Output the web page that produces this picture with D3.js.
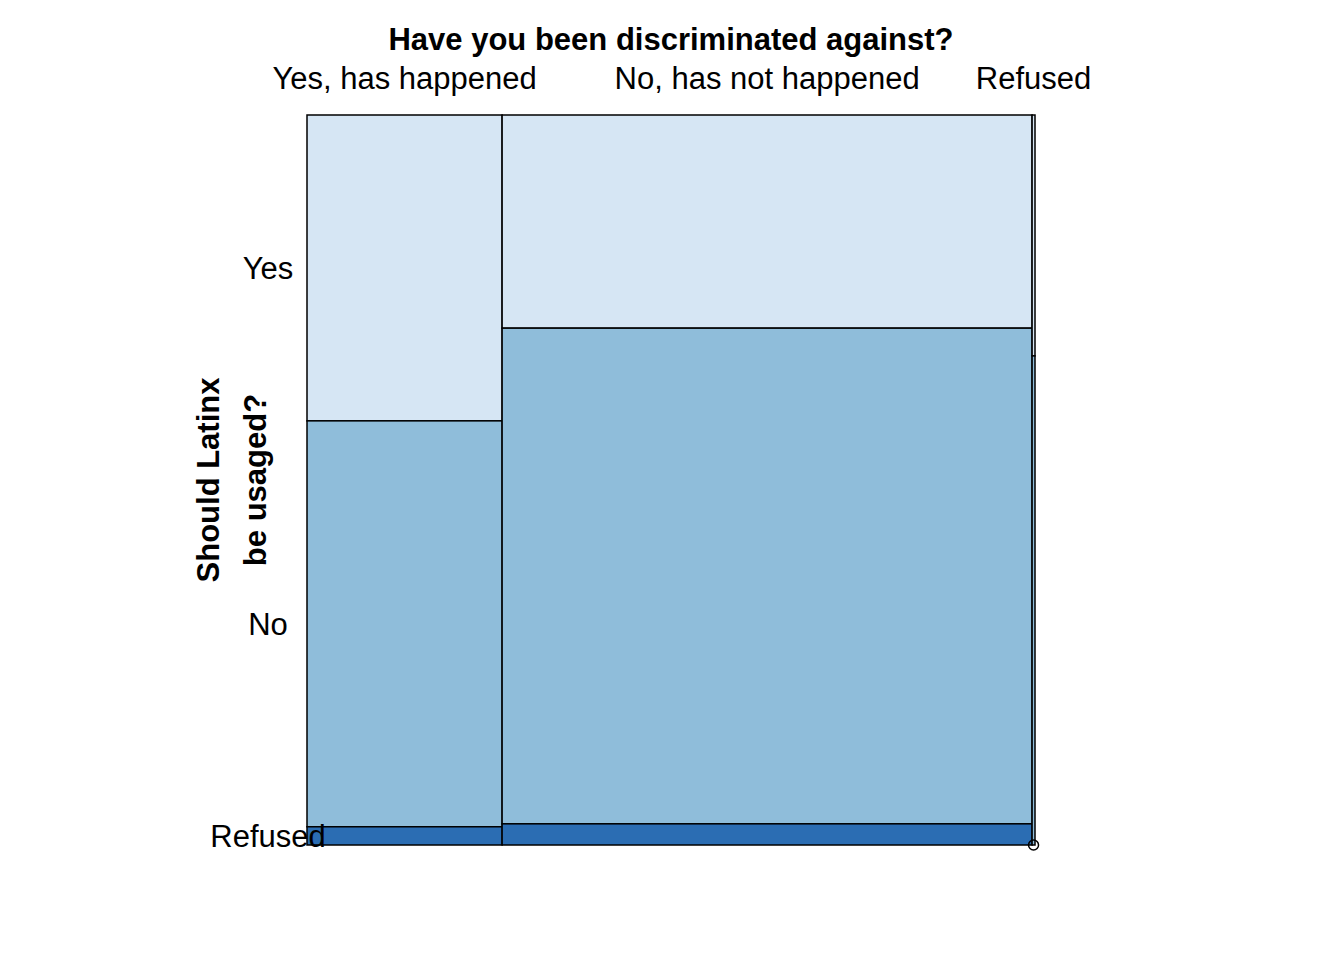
<!DOCTYPE html>
<html lang="en">
<head>
  <meta charset="UTF-8">
  <title>Mosaic</title>
  <style>
    body { margin: 0; background: #fff; }
    text { font-family: "Liberation Sans", Arial, sans-serif; fill: #000; }
  </style>
  <script src="https://d3js.org/d3.v7.min.js"></script>
</head>
<body>
<script>
  // column (discrimination) categories and their shares
  var colCats = ["Yes, has happened", "No, has not happened", "Refused"];
  var colShare = [0.268, 0.728, 0.004];
  // row (Latinx usage) categories
  var rowCats = ["Yes", "No", "Refused"];
  // conditional row shares within each column
  var rowShareYes = [0.419, 0.556, 0.025];
  var rowShareNo = [0.292, 0.679, 0.029];
  var rowShareRefused = [0.33, 0.67, 0.0];
  var rowShares = [rowShareYes, rowShareNo, rowShareRefused];
  var fills = ["#d6e6f4", "#8fbdda", "#2b6db3"];

  var W = 1344, H = 960;
  var svg = d3.select("body").append("svg").attr("width", W).attr("height", H);

  var x = d3.scaleLinear().domain([0, 1]).range([307, 1035]);
  var y = d3.scaleLinear().domain([0, 1]).range([115, 845]);

  var cx = 0;
  colCats.forEach(function(c, i) {
    var x0 = cx, x1 = cx + colShare[i];
    var cy = 0;
    rowShares[i].forEach(function(s, j) {
      var y0 = cy, y1 = cy + s;
      if (s > 0) {
        svg.append("rect")
          .attr("x", x(x0)).attr("y", y(y0))
          .attr("width", x(x1) - x(x0)).attr("height", y(y1) - y(y0))
          .attr("fill", fills[j]).attr("stroke", "#000").attr("stroke-width", 1.5);
      } else {
        svg.append("circle")
          .attr("cx", x((x0 + x1) / 2)).attr("cy", y(y0))
          .attr("r", 5).attr("fill", "none").attr("stroke", "#000").attr("stroke-width", 1.5);
      }
      cy = y1;
    });
    svg.append("text")
      .attr("x", x((x0 + x1) / 2)).attr("y", 89)
      .attr("text-anchor", "middle").attr("font-size", 31).text(c);
    cx = x1;
  });

  // row labels placed by the first column
  var ry = 0;
  rowCats.forEach(function(r, j) {
    var s = rowShares[0][j];
    svg.append("text")
      .attr("x", 268).attr("y", y(ry + s / 2) + 11)
      .attr("text-anchor", "middle").attr("font-size", 31).text(r);
    ry += s;
  });

  svg.append("text")
    .attr("x", 671).attr("y", 50)
    .attr("text-anchor", "middle").attr("font-size", 31).attr("font-weight", "bold")
    .text("Have you been discriminated against?");

  var yt = svg.append("text")
    .attr("transform", "translate(219,480) rotate(-90)")
    .attr("text-anchor", "middle").attr("font-size", 31).attr("font-weight", "bold");
  yt.append("tspan").attr("x", 0).attr("dy", 0).text("Should Latinx");
  yt.append("tspan").attr("x", 0).attr("dy", 47).text("be usaged?");
</script>
</body>
</html>
